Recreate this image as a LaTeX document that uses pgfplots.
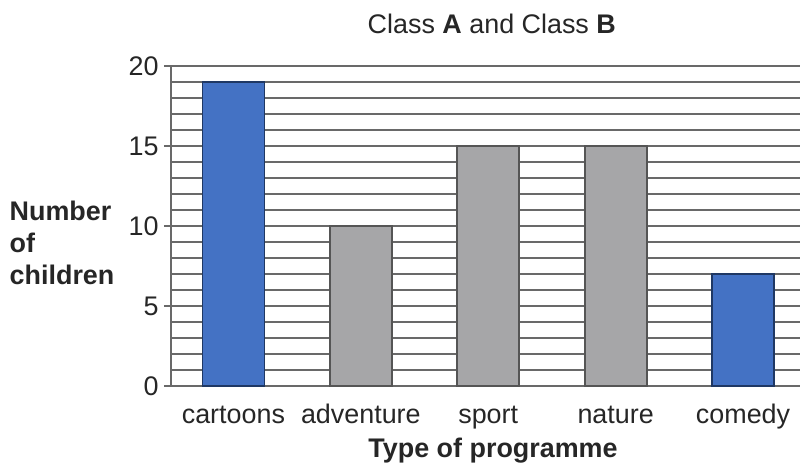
\documentclass[border=0pt]{standalone}
\usepackage{pgfplots}
\pgfplotsset{compat=1.18}
\usepackage{fontspec}
\setmainfont{Liberation Sans}
\definecolor{barblue}{RGB}{68,114,196}
\definecolor{bluedge}{RGB}{31,56,100}
\definecolor{bargray}{RGB}{166,166,168}
\definecolor{grayedge}{RGB}{85,85,85}
\definecolor{gridc}{RGB}{105,105,105}
\begin{document}
\begin{tikzpicture}
\useasboundingbox (-171bp,-81bp) rectangle (630bp,386bp);
\begin{axis}[
  at={(0,0)}, anchor=south west,
  scale only axis, width=629bp, height=320bp,
  xmin=-0.49, xmax=4.447, ymin=0, ymax=20,
  clip=false,
  axis lines*=left,
  axis line style={-, draw=gridc, line width=1.8bp},
  xtick={0,1,2,3,4},
  xticklabels={cartoons,adventure,sport,nature,comedy},
  ytick={0,5,10,15,20},
  minor ytick={1,2,3,4,6,7,8,9,11,12,13,14,16,17,18,19},
  ymajorgrids, yminorgrids,
  major grid style={draw=gridc, line width=1.8bp},
  minor grid style={draw=gridc, line width=1.8bp},
  tick align=outside,
  major tick length=7bp, minor tick length=0pt,
  major x tick style={draw=none},
  major y tick style={draw=gridc, line width=1.8bp},
  /pgf/number format/assume math mode=true,
  tick label style={font=\fontsize{27}{31}\selectfont, text=black!85},
  xticklabel style={anchor=base, yshift=-30bp},
  yticklabel style={xshift=-2bp},
  bar width=62bp,
]
\addplot[ybar, bar shift=0pt, fill=barblue, draw=bluedge, line width=1.8bp] coordinates {(0,19) (4,7)};
\addplot[ybar, bar shift=0pt, fill=bargray, draw=grayedge, line width=1.8bp] coordinates {(1,10) (2,15) (3,15)};
\node[font=\fontsize{27}{31}\selectfont, anchor=base, text=black!85] at (axis description cs:0.51,1.103) {Class \textbf{A} and Class \textbf{B}};
\node[font=\bfseries\fontsize{27}{31}\selectfont, anchor=base, text=black!85] at (axis description cs:0.512,-0.222) {Type of programme};
\node[font=\bfseries\fontsize{27}{32}\selectfont, align=left, anchor=west, text=black!85] at (axis description cs:-0.262,0.447) {Number\\of\\children};
\end{axis}
\end{tikzpicture}
\end{document}
